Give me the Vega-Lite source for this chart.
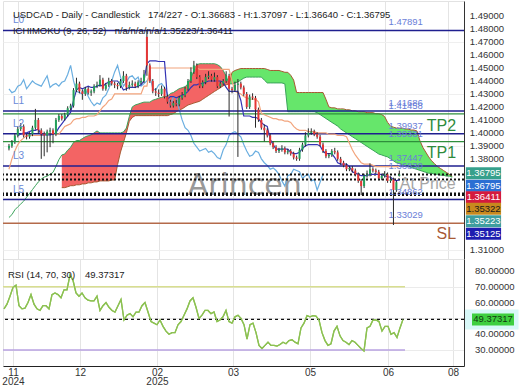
{
"$schema": "https://vega.github.io/schema/vega-lite/v6.json",
"padding": {"left": 0, "top": 0, "right": 0, "bottom": 0},
"bounds": "flush",
"spacing": 0,
"config": {"font": "Liberation Sans", "view": {"stroke": "#e2e2e2"}, "axis": {"title": null}},
"datasets": {
"bars": [
{"i":0,"o":1.388,"h":1.3915,"l":1.3865,"c":1.390,"k":1.372,"ch":1.434,"r":56},
{"i":1,"o":1.390,"h":1.3945,"l":1.3885,"c":1.393,"k":1.380,"ch":1.431,"r":59},
{"i":2,"o":1.393,"h":1.3995,"l":1.3915,"c":1.398,"k":1.386,"ch":1.432,"r":64},
{"i":3,"o":1.398,"h":1.405,"l":1.3965,"c":1.403,"t":1.398,"k":1.391,"ch":1.436,"r":69.6},
{"i":4,"o":1.403,"h":1.4075,"l":1.4015,"c":1.405,"t":1.399,"k":1.394,"ch":1.437,"r":71},
{"i":5,"o":1.405,"h":1.4065,"l":1.3965,"c":1.398,"t":1.400,"k":1.396,"ch":1.441,"r":58},
{"i":6,"o":1.398,"h":1.3995,"l":1.395,"c":1.397,"t":1.400,"k":1.398,"ch":1.434,"r":56},
{"i":7,"o":1.397,"h":1.4005,"l":1.3955,"c":1.399,"t":1.401,"k":1.398,"ch":1.437,"r":56.5},
{"i":8,"o":1.399,"h":1.4055,"l":1.3975,"c":1.404,"t":1.402,"k":1.398,"ch":1.440,"r":60},
{"i":9,"o":1.404,"h":1.4185,"l":1.4025,"c":1.410,"t":1.402,"k":1.398,"ch":1.438,"r":65},
{"i":10,"o":1.410,"h":1.4115,"l":1.3995,"c":1.402,"t":1.403,"k":1.398,"ch":1.437,"r":59},
{"i":11,"o":1.402,"h":1.4035,"l":1.380,"c":1.399,"t":1.3985,"k":1.398,"ch":1.436,"r":56},
{"i":12,"o":1.399,"h":1.401,"l":1.382,"c":1.398,"t":1.3985,"k":1.399,"ch":1.440,"r":55},
{"i":13,"o":1.398,"h":1.4025,"l":1.385,"c":1.401,"t":1.3985,"k":1.399,"ch":1.444,"r":58},
{"i":14,"o":1.401,"h":1.404,"l":1.389,"c":1.402,"t":1.3985,"k":1.399,"ch":1.435,"r":58},
{"i":15,"o":1.402,"h":1.4035,"l":1.392,"c":1.399,"t":1.399,"k":1.399,"ch":1.437,"r":56},
{"i":16,"o":1.399,"h":1.4115,"l":1.3975,"c":1.410,"t":1.400,"k":1.399,"ch":1.438,"r":65},
{"i":17,"o":1.410,"h":1.4145,"l":1.4085,"c":1.413,"t":1.404,"k":1.399,"ch":1.436,"r":66},
{"i":18,"o":1.413,"h":1.4145,"l":1.4095,"c":1.411,"t":1.407,"k":1.402,"ch":1.439,"r":65},
{"i":19,"o":1.411,"h":1.4155,"l":1.4095,"c":1.414,"t":1.410,"k":1.405,"ch":1.440,"r":63},
{"i":20,"o":1.414,"h":1.4205,"l":1.4125,"c":1.419,"t":1.413,"k":1.406,"ch":1.445,"r":68},
{"i":21,"o":1.419,"h":1.4225,"l":1.4175,"c":1.421,"t":1.416,"k":1.407,"ch":1.452,"r":68},
{"i":22,"o":1.421,"h":1.4345,"l":1.4195,"c":1.433,"t":1.425,"k":1.410,"ch":1.440,"r":77.5},
{"i":23,"o":1.433,"h":1.4425,"l":1.4315,"c":1.438,"t":1.433,"k":1.411,"ch":1.432,"r":74},
{"i":24,"o":1.438,"h":1.4395,"l":1.4305,"c":1.432,"t":1.435,"k":1.411,"ch":1.431,"r":66},
{"i":25,"o":1.432,"h":1.4335,"l":1.4255,"c":1.430,"t":1.434,"k":1.412,"ch":1.430,"r":64},
{"i":26,"o":1.430,"h":1.4355,"l":1.4285,"c":1.434,"t":1.435,"k":1.412,"ch":1.434,"r":66},
{"i":27,"o":1.434,"h":1.4355,"l":1.4295,"c":1.431,"t":1.436,"k":1.413,"ch":1.428,"r":63},
{"i":28,"o":1.431,"h":1.4335,"l":1.4285,"c":1.432,"t":1.435,"k":1.413,"ch":1.424,"r":61.5},
{"i":29,"o":1.432,"h":1.4375,"l":1.4305,"c":1.436,"t":1.435,"k":1.413,"ch":1.421,"r":61},
{"i":30,"o":1.436,"h":1.4395,"l":1.4345,"c":1.437,"t":1.436,"k":1.414,"ch":1.423,"r":61},
{"i":31,"o":1.437,"h":1.4445,"l":1.4355,"c":1.441,"t":1.437,"k":1.417,"ch":1.422,"r":64},
{"i":32,"o":1.441,"h":1.4425,"l":1.4325,"c":1.434,"t":1.436,"k":1.420,"ch":1.427,"r":55},
{"i":33,"o":1.434,"h":1.4385,"l":1.4325,"c":1.437,"t":1.438,"k":1.422,"ch":1.429,"r":58},
{"i":34,"o":1.437,"h":1.4425,"l":1.4355,"c":1.440,"t":1.439,"k":1.425,"ch":1.434,"r":60},
{"i":35,"o":1.440,"h":1.4415,"l":1.4365,"c":1.438,"t":1.440,"k":1.426,"ch":1.440,"r":57},
{"i":36,"o":1.438,"h":1.4395,"l":1.4345,"c":1.437,"t":1.440,"k":1.430,"ch":1.447,"r":55},
{"i":37,"o":1.437,"h":1.4385,"l":1.4335,"c":1.436,"t":1.440,"k":1.430,"ch":1.452,"r":54},
{"i":38,"o":1.436,"h":1.4415,"l":1.4345,"c":1.440,"t":1.437,"k":1.430,"ch":1.443,"r":58},
{"i":39,"o":1.440,"h":1.4475,"l":1.4385,"c":1.444,"t":1.433,"k":1.430,"ch":1.436,"r":62},
{"i":40,"o":1.444,"h":1.4455,"l":1.4325,"c":1.435,"t":1.434,"k":1.430,"ch":1.439,"r":49},
{"i":41,"o":1.435,"h":1.4395,"l":1.4335,"c":1.437,"t":1.435,"k":1.430,"ch":1.443,"r":52},
{"i":42,"o":1.437,"h":1.4405,"l":1.4355,"c":1.438,"t":1.435,"k":1.430,"ch":1.444,"r":53},
{"i":43,"o":1.438,"h":1.4395,"l":1.4345,"c":1.436,"t":1.435,"k":1.430,"ch":1.441,"r":51},
{"i":44,"o":1.436,"h":1.4405,"l":1.4345,"c":1.439,"t":1.436,"k":1.430,"ch":1.443,"r":54},
{"i":45,"o":1.439,"h":1.4425,"l":1.4375,"c":1.440,"t":1.437,"k":1.430,"ch":1.436,"r":54},
{"i":46,"o":1.440,"h":1.4485,"l":1.4385,"c":1.445,"t":1.440,"k":1.436,"ch":1.438,"r":58},
{"i":47,"o":1.474,"h":1.4789,"l":1.444,"c":1.452,"t":1.4535,"k":1.436,"ch":1.440,"r":60},
{"i":48,"o":1.452,"h":1.4535,"l":1.4385,"c":1.440,"t":1.4555,"k":1.450,"ch":1.444,"r":54},
{"i":49,"o":1.440,"h":1.4415,"l":1.4305,"c":1.432,"t":1.4555,"k":1.450,"ch":1.434,"r":48},
{"i":50,"o":1.432,"h":1.4345,"l":1.4285,"c":1.431,"t":1.4555,"k":1.450,"ch":1.433,"r":47},
{"i":51,"o":1.431,"h":1.4335,"l":1.4275,"c":1.430,"t":1.455,"k":1.450,"ch":1.437,"r":46},
{"i":52,"o":1.430,"h":1.4365,"l":1.4285,"c":1.434,"t":1.455,"k":1.450,"ch":1.438,"r":49},
{"i":53,"o":1.434,"h":1.4355,"l":1.4265,"c":1.428,"t":1.455,"k":1.450,"ch":1.435,"r":45},
{"i":54,"o":1.428,"h":1.4295,"l":1.4225,"c":1.424,"t":1.426,"k":1.450,"ch":1.430,"r":42},
{"i":55,"o":1.424,"h":1.4255,"l":1.4195,"c":1.421,"t":1.428,"k":1.450,"ch":1.420,"r":40},
{"i":56,"o":1.421,"h":1.4245,"l":1.4195,"c":1.423,"t":1.428,"k":1.450,"ch":1.428,"r":41},
{"i":57,"o":1.423,"h":1.4255,"l":1.4205,"c":1.422,"t":1.427,"k":1.450,"ch":1.427,"r":41},
{"i":58,"o":1.422,"h":1.4285,"l":1.4205,"c":1.427,"t":1.428,"k":1.450,"ch":1.418,"r":46},
{"i":59,"o":1.427,"h":1.4315,"l":1.4255,"c":1.429,"t":1.429,"k":1.450,"ch":1.410,"r":48},
{"i":60,"o":1.429,"h":1.4355,"l":1.4275,"c":1.434,"t":1.430,"k":1.450,"ch":1.404,"r":52},
{"i":61,"o":1.434,"h":1.4415,"l":1.4325,"c":1.440,"t":1.432,"k":1.450,"ch":1.402,"r":56},
{"i":62,"o":1.440,"h":1.4505,"l":1.4385,"c":1.447,"t":1.435,"k":1.450,"ch":1.398,"r":61},
{"i":63,"o":1.447,"h":1.4555,"l":1.4455,"c":1.452,"t":1.437,"k":1.450,"ch":1.392,"r":63},
{"i":64,"o":1.452,"h":1.4535,"l":1.4415,"c":1.443,"t":1.437,"k":1.450,"ch":1.389,"r":57},
{"i":65,"o":1.443,"h":1.4445,"l":1.4345,"c":1.436,"t":1.438,"k":1.449,"ch":1.386,"r":50},
{"i":66,"o":1.436,"h":1.4405,"l":1.4345,"c":1.439,"t":1.438,"k":1.449,"ch":1.387,"r":52},
{"i":67,"o":1.439,"h":1.4455,"l":1.4375,"c":1.443,"t":1.439,"k":1.449,"ch":1.388,"r":55},
{"i":68,"o":1.443,"h":1.4475,"l":1.4415,"c":1.444,"t":1.440,"k":1.449,"ch":1.385,"r":55},
{"i":69,"o":1.444,"h":1.4455,"l":1.4395,"c":1.441,"t":1.440,"k":1.449,"ch":1.386,"r":53},
{"i":70,"o":1.441,"h":1.4465,"l":1.4395,"c":1.443,"t":1.440,"k":1.449,"ch":1.384,"r":54},
{"i":71,"o":1.443,"h":1.4445,"l":1.4345,"c":1.436,"t":1.440,"k":1.449,"ch":1.381,"r":48},
{"i":72,"o":1.436,"h":1.4395,"l":1.4345,"c":1.438,"t":1.440,"k":1.449,"ch":1.380,"r":49},
{"i":73,"o":1.438,"h":1.4415,"l":1.4365,"c":1.440,"t":1.439,"k":1.449,"ch":1.387,"r":51},
{"i":74,"o":1.440,"h":1.4475,"l":1.4385,"c":1.444,"t":1.435,"k":1.449,"ch":1.391,"r":55},
{"i":75,"o":1.444,"h":1.4455,"l":1.4126,"c":1.434,"t":1.432,"k":1.449,"ch":1.398,"r":48},
{"i":76,"o":1.434,"h":1.4355,"l":1.4305,"c":1.433,"t":1.432,"k":1.440,"ch":1.400,"r":47},
{"i":77,"o":1.433,"h":1.4395,"l":1.4315,"c":1.437,"t":1.432,"k":1.432,"ch":1.401,"r":51},
{"i":78,"o":1.437,"h":1.4415,"l":1.3815,"c":1.438,"t":1.432,"k":1.431,"ch":1.399,"r":52},
{"i":79,"o":1.438,"h":1.4395,"l":1.4335,"c":1.435,"t":1.425,"k":1.430,"ch":1.397,"r":50},
{"i":80,"o":1.435,"h":1.4365,"l":1.4285,"c":1.430,"t":1.413,"k":1.428,"ch":1.391,"r":46},
{"i":81,"o":1.430,"h":1.4315,"l":1.4185,"c":1.420,"t":1.413,"k":1.427,"ch":1.386,"r":37},
{"i":82,"o":1.420,"h":1.4295,"l":1.4185,"c":1.428,"t":1.413,"k":1.426,"ch":1.382,"r":46},
{"i":83,"o":1.428,"h":1.4305,"l":1.4255,"c":1.427,"t":1.412,"k":1.426,"ch":1.383,"r":47},
{"i":84,"o":1.427,"h":1.4285,"l":1.404,"c":1.418,"t":1.412,"k":1.426,"ch":1.386,"r":41},
{"i":85,"o":1.418,"h":1.4195,"l":1.4085,"c":1.410,"t":1.411,"k":1.424,"ch":1.385,"r":33},
{"i":86,"o":1.410,"h":1.4115,"l":1.4025,"c":1.404,"t":1.408,"k":1.415,"ch":1.380,"r":31},
{"i":87,"o":1.404,"h":1.4065,"l":1.3935,"c":1.402,"t":1.406,"k":1.414,"ch":1.377,"r":33},
{"i":88,"o":1.402,"h":1.4035,"l":1.3965,"c":1.398,"t":1.405,"k":1.413,"ch":1.375,"r":35},
{"i":89,"o":1.398,"h":1.3995,"l":1.3905,"c":1.392,"t":1.395,"k":1.412,"ch":1.372,"r":33},
{"i":90,"o":1.392,"h":1.3935,"l":1.3875,"c":1.389,"t":1.391,"k":1.411,"ch":1.373,"r":33},
{"i":91,"o":1.389,"h":1.3905,"l":1.3845,"c":1.386,"t":1.3875,"k":1.411,"ch":1.371,"r":32.5},
{"i":92,"o":1.386,"h":1.3885,"l":1.3845,"c":1.387,"t":1.3875,"k":1.410,"ch":1.368,"r":33.5},
{"i":93,"o":1.387,"h":1.3905,"l":1.3855,"c":1.388,"t":1.3875,"k":1.410,"ch":1.363,"r":35},
{"i":94,"o":1.388,"h":1.3895,"l":1.3835,"c":1.385,"t":1.3875,"k":1.409,"ch":1.359,"r":34},
{"i":95,"o":1.385,"h":1.3875,"l":1.3835,"c":1.386,"t":1.3875,"k":1.409,"ch":1.367,"r":36},
{"i":96,"o":1.386,"h":1.3875,"l":1.3825,"c":1.384,"t":1.385,"k":1.408,"ch":1.368,"r":36.5},
{"i":97,"o":1.384,"h":1.3855,"l":1.3795,"c":1.381,"t":1.384,"k":1.405,"ch":1.372,"r":35},
{"i":98,"o":1.381,"h":1.3825,"l":1.3785,"c":1.380,"t":1.384,"k":1.403,"ch":1.371,"r":34},
{"i":99,"o":1.380,"h":1.3885,"l":1.3785,"c":1.387,"t":1.385,"k":1.402,"ch":1.370,"r":44},
{"i":100,"o":1.387,"h":1.3925,"l":1.3855,"c":1.391,"t":1.388,"k":1.402,"ch":1.365,"r":47},
{"i":101,"o":1.391,"h":1.4005,"l":1.3895,"c":1.398,"t":1.390,"k":1.402,"ch":1.367,"r":51.7},
{"i":102,"o":1.398,"h":1.4035,"l":1.3965,"c":1.400,"t":1.391,"k":1.401,"ch":1.368,"r":51},
{"i":103,"o":1.400,"h":1.4035,"l":1.3985,"c":1.401,"t":1.391,"k":1.401,"ch":1.363,"r":51.7},
{"i":104,"o":1.401,"h":1.4025,"l":1.3975,"c":1.399,"t":1.391,"k":1.401,"ch":1.364,"r":51.5},
{"i":105,"o":1.399,"h":1.4005,"l":1.3955,"c":1.397,"t":1.391,"k":1.400,"ch":1.356,"r":49},
{"i":106,"o":1.397,"h":1.3985,"l":1.3895,"c":1.391,"t":1.390,"k":1.400,"ch":1.362,"r":41},
{"i":107,"o":1.391,"h":1.3925,"l":1.3845,"c":1.386,"t":1.386,"k":1.400,"ch":1.368,"r":36},
{"i":108,"o":1.386,"h":1.3875,"l":1.3805,"c":1.382,"t":1.384,"k":1.400,"r":33},
{"i":109,"o":1.382,"h":1.3845,"l":1.3805,"c":1.383,"t":1.384,"k":1.399,"r":34},
{"i":110,"o":1.383,"h":1.3875,"l":1.3815,"c":1.386,"t":1.384,"k":1.399,"r":42},
{"i":111,"o":1.386,"h":1.3885,"l":1.3835,"c":1.385,"t":1.381,"k":1.399,"r":45},
{"i":112,"o":1.385,"h":1.3865,"l":1.3785,"c":1.380,"t":1.377,"k":1.398,"r":39},
{"i":113,"o":1.380,"h":1.3815,"l":1.3755,"c":1.377,"t":1.376,"k":1.398,"r":36},
{"i":114,"o":1.377,"h":1.3785,"l":1.3735,"c":1.375,"t":1.376,"k":1.398,"r":35},
{"i":115,"o":1.375,"h":1.3765,"l":1.3705,"c":1.372,"t":1.376,"k":1.397,"r":33.5},
{"i":116,"o":1.372,"h":1.3745,"l":1.3705,"c":1.373,"t":1.374,"k":1.392,"r":36},
{"i":117,"o":1.373,"h":1.3745,"l":1.3695,"c":1.371,"t":1.370,"k":1.387,"r":35},
{"i":118,"o":1.371,"h":1.3725,"l":1.3665,"c":1.368,"t":1.369,"k":1.383,"r":33},
{"i":119,"o":1.368,"h":1.3695,"l":1.3615,"c":1.363,"t":1.368,"k":1.380,"r":31},
{"i":120,"o":1.363,"h":1.3645,"l":1.352,"c":1.359,"t":1.367,"k":1.377,"r":29.5},
{"i":121,"o":1.359,"h":1.3685,"l":1.3575,"c":1.367,"t":1.367,"k":1.376,"r":44},
{"i":122,"o":1.367,"h":1.371,"l":1.3655,"c":1.368,"t":1.367,"k":1.376,"r":45},
{"i":123,"o":1.368,"h":1.3765,"l":1.3665,"c":1.372,"t":1.368,"k":1.376,"r":49},
{"i":124,"o":1.372,"h":1.3735,"l":1.3695,"c":1.371,"t":1.368,"k":1.375,"r":49},
{"i":125,"o":1.371,"h":1.3725,"l":1.3685,"c":1.370,"t":1.368,"k":1.374,"r":48},
{"i":126,"o":1.370,"h":1.3715,"l":1.3635,"c":1.365,"t":1.368,"k":1.374,"r":42},
{"i":127,"o":1.365,"h":1.3685,"l":1.3635,"c":1.367,"t":1.368,"k":1.374,"r":45},
{"i":128,"o":1.367,"h":1.3705,"l":1.3655,"c":1.368,"t":1.367,"k":1.374,"r":45},
{"i":129,"o":1.368,"h":1.3695,"l":1.3615,"c":1.363,"t":1.366,"k":1.374,"r":40},
{"i":130,"o":1.363,"h":1.3665,"l":1.3615,"c":1.364,"t":1.366,"k":1.374,"r":41},
{"i":131,"o":1.364,"h":1.3655,"l":1.329,"c":1.356,"t":1.364,"k":1.374,"r":38},
{"i":132,"o":1.356,"h":1.3635,"l":1.3545,"c":1.362,"t":1.363,"k":1.374,"r":44},
{"i":133,"o":1.36683,"h":1.37097,"l":1.3664,"c":1.36795,"t":1.364,"k":1.374,"r":49.37317}
],
"cloud": [
{"i":0,"a":1.3348},{"i":1,"a":1.3370},{"i":2,"a":1.3407},{"i":3,"a":1.3430},{"i":4,"a":1.3452},{"i":5,"a":1.3474},{"i":6,"a":1.3504},{"i":7,"a":1.3533},{"i":8,"a":1.3563},{"i":9,"a":1.3593},{"i":10,"a":1.3622},{"i":11,"a":1.3644},{"i":12,"a":1.3659},{"i":13,"a":1.3667},{"i":14,"a":1.3681},{"i":15,"a":1.3696},{"i":16,"a":1.3741},{"i":17,"a":1.3793},
{"i":18,"a":1.3830,"b":1.3578},{"i":19,"a":1.3837,"b":1.3578},{"i":20,"a":1.3867,"b":1.3585},{"i":21,"a":1.3889,"b":1.3593},{"i":22,"a":1.3926,"b":1.3593},{"i":23,"a":1.3941,"b":1.3600},{"i":24,"a":1.3941,"b":1.3600},{"i":25,"a":1.3956,"b":1.3607},{"i":26,"a":1.3970,"b":1.3607},{"i":27,"a":1.3978,"b":1.3615},{"i":28,"a":1.3985,"b":1.3615},{"i":29,"a":1.4000,"b":1.3622},{"i":30,"a":1.4015,"b":1.3622},{"i":31,"a":1.4000,"b":1.3630},{"i":32,"a":1.4000,"b":1.3630},{"i":33,"a":1.4000,"b":1.3630},{"i":34,"a":1.4000,"b":1.3630},{"i":35,"a":1.4000,"b":1.3637},{"i":36,"a":1.4000,"b":1.3637},{"i":37,"a":1.4000,"b":1.3756},{"i":38,"a":1.4000,"b":1.3852},{"i":39,"a":1.4007,"b":1.3926},{"i":40,"a":1.4037,"b":1.4000},{"i":41,"a":1.4126,"b":1.4089},{"i":42,"a":1.4200,"b":1.4119},{"i":43,"a":1.4215,"b":1.4133},{"i":44,"a":1.4222,"b":1.4133},{"i":45,"a":1.4230,"b":1.4133},{"i":46,"a":1.4237,"b":1.4133},{"i":47,"a":1.4237,"b":1.4133},{"i":48,"a":1.4237,"b":1.4133},{"i":49,"a":1.4252,"b":1.4133},{"i":50,"a":1.4259,"b":1.4133},{"i":51,"a":1.4267,"b":1.4133},{"i":52,"a":1.4274,"b":1.4133},{"i":53,"a":1.4281,"b":1.4133},{"i":54,"a":1.4281,"b":1.4133},{"i":55,"a":1.4304,"b":1.4141},{"i":56,"a":1.4311,"b":1.4148},{"i":57,"a":1.4326,"b":1.4163},{"i":58,"a":1.4341,"b":1.4178},{"i":59,"a":1.4348,"b":1.4185},{"i":60,"a":1.4356,"b":1.4200},{"i":61,"a":1.4378,"b":1.4215},{"i":62,"a":1.4422,"b":1.4222},{"i":63,"a":1.4481,"b":1.4230},{"i":64,"a":1.4526,"b":1.4237},{"i":65,"a":1.4533,"b":1.4244},{"i":66,"a":1.4533,"b":1.4259},{"i":67,"a":1.4533,"b":1.4274},{"i":68,"a":1.4533,"b":1.4289},{"i":69,"a":1.4533,"b":1.4304},{"i":70,"a":1.4533,"b":1.4319},{"i":71,"a":1.4526,"b":1.4333},{"i":72,"a":1.4511,"b":1.4348},{"i":73,"a":1.4481,"b":1.4363},{"i":74,"a":1.4437,"b":1.4370},{"i":75,"a":1.4378,"b":1.4378},
{"i":76,"a":1.4378,"b":1.4467},{"i":77,"a":1.4385,"b":1.4481},{"i":78,"a":1.4393,"b":1.4489},{"i":79,"a":1.4407,"b":1.4496},{"i":80,"a":1.4422,"b":1.4496},{"i":81,"a":1.4430,"b":1.4496},{"i":82,"a":1.4430,"b":1.4496},{"i":83,"a":1.4430,"b":1.4496},{"i":84,"a":1.4430,"b":1.4496},{"i":85,"a":1.4430,"b":1.4496},{"i":86,"a":1.4430,"b":1.4496},{"i":87,"a":1.4407,"b":1.4496},{"i":88,"a":1.4385,"b":1.4489},{"i":89,"a":1.4385,"b":1.4481},{"i":90,"a":1.4385,"b":1.4481},{"i":91,"a":1.4385,"b":1.4481},{"i":92,"a":1.4385,"b":1.4481},{"i":93,"a":1.4385,"b":1.4474},{"i":94,"a":1.4378,"b":1.4467},{"i":95,"a":1.4163,"b":1.4467},{"i":96,"a":1.4163,"b":1.4444},{"i":97,"a":1.4163,"b":1.4407},{"i":98,"a":1.4163,"b":1.4311},{"i":99,"a":1.4163,"b":1.4311},{"i":100,"a":1.4163,"b":1.4311},{"i":101,"a":1.4163,"b":1.4311},{"i":102,"a":1.4163,"b":1.4311},{"i":103,"a":1.4163,"b":1.4311},{"i":104,"a":1.4163,"b":1.4311},{"i":105,"a":1.4156,"b":1.4311},{"i":106,"a":1.4141,"b":1.4311},{"i":107,"a":1.4126,"b":1.4311},{"i":108,"a":1.4111,"b":1.4259},{"i":109,"a":1.4096,"b":1.4200},{"i":110,"a":1.4081,"b":1.4193},{"i":111,"a":1.4067,"b":1.4193},{"i":112,"a":1.4052,"b":1.4185},{"i":113,"a":1.4030,"b":1.4185},{"i":114,"a":1.4015,"b":1.4185},{"i":115,"a":1.4000,"b":1.4178},{"i":116,"a":1.3985,"b":1.4178},{"i":117,"a":1.3970,"b":1.4170},{"i":118,"a":1.3956,"b":1.4170},{"i":119,"a":1.3941,"b":1.4163},{"i":120,"a":1.3926,"b":1.4163},{"i":121,"a":1.3911,"b":1.4163},{"i":122,"a":1.3896,"b":1.4156},{"i":123,"a":1.3881,"b":1.4156},{"i":124,"a":1.3867,"b":1.4156},{"i":125,"a":1.3852,"b":1.4148},{"i":126,"a":1.3837,"b":1.4148},{"i":127,"a":1.3830,"b":1.4141},{"i":128,"a":1.3822,"b":1.4126},{"i":129,"a":1.3815,"b":1.4081},{"i":130,"a":1.3800,"b":1.4052},{"i":131,"a":1.3785,"b":1.4044},{"i":132,"a":1.3770,"b":1.4037},{"i":133,"a":1.3763,"b":1.4037},{"i":134,"a":1.3756,"b":1.4037},{"i":135,"a":1.3748,"b":1.4030},{"i":136,"a":1.3741,"b":1.4030},{"i":137,"a":1.3733,"b":1.4022},{"i":138,"a":1.3726,"b":1.4022},{"i":139,"a":1.3719,"b":1.4015},{"i":140,"a":1.3711,"b":1.3941},{"i":141,"a":1.3704,"b":1.3889},{"i":142,"a":1.3696,"b":1.3852},{"i":143,"a":1.3689,"b":1.3815},{"i":144,"a":1.3689,"b":1.3785},{"i":145,"a":1.3681,"b":1.3763},{"i":146,"a":1.3681,"b":1.3741},{"i":147,"a":1.3674,"b":1.3726},{"i":148,"a":1.3674,"b":1.3711},{"i":149,"a":1.3667,"b":1.3696},{"i":150,"a":1.3667,"b":1.3681},{"i":151,"a":1.3659,"b":1.3667}
],
"levels": [
{"v":1.47891,"g":"n"},{"v":1.41686,"g":"n"},{"v":1.39937,"g":"n"},{"v":1.37447,"g":"n"},{"v":1.34862,"g":"n"},
{"v":1.41458,"g":"g"},{"v":1.39331,"g":"g"},
{"v":1.33029,"g":"b"},
{"v":1.36795,"g":"d"},{"v":1.36411,"g":"d"},{"v":1.35322,"g":"d"},{"v":1.35223,"g":"d"}
],
"vlabels": [{"v":1.47891},{"v":1.41686},{"v":1.41458},{"v":1.39937},{"v":1.39331},{"v":1.37447},{"v":1.36830},{"v":1.34862},{"v":1.33029}],
"llabels": [{"v":1.47891,"s":"L0"},{"v":1.41686,"s":"L1"},{"v":1.39937,"s":"L2"},{"v":1.37447,"s":"L3"},{"v":1.34862,"s":"L5"}],
"pticks": [{"v":1.31},{"v":1.38},{"v":1.39},{"v":1.40},{"v":1.41},{"v":1.42},{"v":1.43},{"v":1.44},{"v":1.45},{"v":1.46},{"v":1.47},{"v":1.48},{"v":1.49}],
"rticks": [{"v":30},{"v":40},{"v":60},{"v":70},{"v":80}],
"badges": [
{"ly":1.36889,"s":"1.36795","bg":"#36a08c","fg":"#ffffff"},
{"ly":1.35926,"s":"1.36795","bg":"#2b6fd3","fg":"#ffffff"},
{"ly":1.35037,"s":"1.36411","bg":"#d41a3e","fg":"#ffffff"},
{"ly":1.34148,"s":"1.35322","bg":"#c8891e","fg":"#1a1a1a"},
{"ly":1.33185,"s":"1.35223","bg":"#3f9e9e","fg":"#ffffff"},
{"ly":1.32222,"s":"1.35125","bg":"#1d1db0","fg":"#ffffff"}
]
},
"vconcat": [
{
"width": 461, "height": 258,
"layer": [
{"data": {"name": "cloud"}, "transform": [{"filter": "datum.i >= 18 && datum.i <= 75"}], "mark": {"type": "area", "color": "#f36464"},
 "encoding": {"x": {"field": "i", "type": "quantitative", "scale": {"domain": [-0.333, 153.333], "nice": false, "zero": false},
   "axis": {"values": [3, 25.33, 51, 76.33, 102, 128, 149.67], "labels": false, "ticks": false, "domain": true, "domainColor": "#333", "grid": true, "gridColor": "#e4e4e4", "title": null}},
  "y": {"field": "a", "type": "quantitative", "scale": {"domain": [1.30667, 1.49778], "nice": false, "zero": false},
   "axis": {"orient": "right", "values": [1.31, 1.32, 1.33, 1.34, 1.35, 1.36, 1.37, 1.38, 1.39, 1.40, 1.41, 1.42, 1.43, 1.44, 1.45, 1.46, 1.47, 1.48, 1.49],
    "labels": false, "ticks": false, "domainColor": "#333", "grid": true, "gridColor": "#efefef", "title": null}},
  "y2": {"field": "b"}}},
{"data": {"values": [{}]}, "mark": {"type": "text", "font": "DejaVu Sans", "fontSize": 30, "color": "#8e8e8e", "opacity": 0.9, "align": "center", "baseline": "alphabetic"},
 "encoding": {"x": {"datum": 80.33, "type": "quantitative"},
  "y": {"datum": 1.35185, "type": "quantitative"},
  "text": {"value": "Arincen"}}},
{"data": {"name": "cloud"}, "transform": [{"filter": "datum.i >= 75"}], "mark": {"type": "area", "color": "#66e66b"},
 "encoding": {"x": {"field": "i", "type": "quantitative"},
  "y": {"field": "a", "type": "quantitative"},
  "y2": {"field": "b"}}},
{"data": {"name": "cloud"}, "mark": {"type": "line", "color": "#3aa35a", "strokeWidth": 1},
 "encoding": {"x": {"field": "i", "type": "quantitative"},
  "y": {"field": "a", "type": "quantitative"}}},
{"data": {"name": "cloud"}, "transform": [{"filter": "isValid(datum.b)"}], "mark": {"type": "line", "color": "#a65a32", "strokeWidth": 1},
 "encoding": {"x": {"field": "i", "type": "quantitative"},
  "y": {"field": "b", "type": "quantitative"}}},
{"data": {"name": "bars"}, "transform": [{"filter": "isValid(datum.ch)"}], "mark": {"type": "line", "color": "#6aaee0", "strokeWidth": 1.2},
 "encoding": {"x": {"field": "i", "type": "quantitative"},
  "y": {"field": "ch", "type": "quantitative"}}},
{"data": {"name": "levels"}, "transform": [{"filter": "datum.g == 'n'"}], "mark": {"type": "rule", "color": "#1f1f8f", "strokeWidth": 1.5},
 "encoding": {"y": {"field": "v", "type": "quantitative"}}},
{"data": {"name": "levels"}, "transform": [{"filter": "datum.g == 'g'"}], "mark": {"type": "rule", "color": "#2f8f3c", "strokeWidth": 1.3},
 "encoding": {"y": {"field": "v", "type": "quantitative"}}},
{"data": {"name": "levels"}, "transform": [{"filter": "datum.g == 'b'"}], "mark": {"type": "rule", "color": "#b46a4a", "strokeWidth": 1.5},
 "encoding": {"y": {"field": "v", "type": "quantitative"}}},
{"data": {"name": "levels"}, "transform": [{"filter": "datum.g == 'd'"}], "mark": {"type": "rule", "color": "#111111", "strokeWidth": 2, "strokeDash": [2, 2]},
 "encoding": {"y": {"field": "v", "type": "quantitative"}}},
{"data": {"name": "bars"}, "mark": {"type": "line", "color": "#f2a47c", "strokeWidth": 1.2},
 "encoding": {"x": {"field": "i", "type": "quantitative"},
  "y": {"field": "k", "type": "quantitative"}}},
{"data": {"name": "bars"}, "transform": [{"filter": "isValid(datum.t)"}], "mark": {"type": "line", "color": "#3434b4", "strokeWidth": 1.2},
 "encoding": {"x": {"field": "i", "type": "quantitative"},
  "y": {"field": "t", "type": "quantitative"}}},
{"data": {"name": "bars"}, "mark": {"type": "rule", "color": "#2a2a2a", "strokeWidth": 1},
 "encoding": {"x": {"field": "i", "type": "quantitative"},
  "y": {"field": "l", "type": "quantitative"},
  "y2": {"field": "h"}}},
{"data": {"name": "bars"}, "mark": {"type": "bar", "size": 2},
 "encoding": {"x": {"field": "i", "type": "quantitative"},
  "y": {"field": "o", "type": "quantitative"},
  "y2": {"field": "c"},
  "color": {"condition": {"test": "datum.c >= datum.o", "value": "#23a05a"}, "value": "#e53535"}}},
{"data": {"name": "vlabels"}, "mark": {"type": "text", "align": "left", "baseline": "middle", "dy": -8, "fontSize": 9.5, "color": "#6a7ed8"},
 "encoding": {"x": {"datum": 129.33, "type": "quantitative"},
  "y": {"field": "v", "type": "quantitative"},
  "text": {"field": "v", "type": "quantitative", "format": ".5f"}}},
{"data": {"name": "llabels"}, "mark": {"type": "text", "align": "left", "baseline": "middle", "dy": -10, "fontSize": 10, "color": "#6a8ad8"},
 "encoding": {"x": {"datum": 1.33, "type": "quantitative"},
  "y": {"field": "v", "type": "quantitative"},
  "text": {"field": "s"}}},
{"data": {"values": [{}]}, "mark": {"type": "text", "align": "center", "baseline": "middle", "fontSize": 16, "color": "#2e8b3c"},
 "encoding": {"x": {"datum": 147.33, "type": "quantitative"}, "y": {"datum": 1.40556, "type": "quantitative"}, "text": {"value": "TP2"}}},
{"data": {"values": [{}]}, "mark": {"type": "text", "align": "center", "baseline": "middle", "fontSize": 16, "color": "#2e8b3c"},
 "encoding": {"x": {"datum": 147.33, "type": "quantitative"}, "y": {"datum": 1.38481, "type": "quantitative"}, "text": {"value": "TP1"}}},
{"data": {"values": [{}]}, "mark": {"type": "text", "align": "center", "baseline": "middle", "fontSize": 16, "color": "#a95a35"},
 "encoding": {"x": {"datum": 149, "type": "quantitative"}, "y": {"datum": 1.32222, "type": "quantitative"}, "text": {"value": "SL"}}},
{"data": {"values": [{}]}, "mark": {"type": "text", "align": "center", "baseline": "middle", "fontSize": 16, "color": "#a6a6a6"},
 "encoding": {"x": {"datum": 142.67, "type": "quantitative"}, "y": {"datum": 1.36074, "type": "quantitative"}, "text": {"value": "At Price"}}},
{"data": {"values": [{}]}, "mark": {"type": "text", "align": "left", "baseline": "middle", "fontSize": 9.5, "color": "#222222"},
 "encoding": {"x": {"datum": 1.33, "type": "quantitative"}, "y": {"datum": 1.49074, "type": "quantitative"}, "text": {"value": "USDCAD - Daily - Candlestick"}}},
{"data": {"values": [{}]}, "mark": {"type": "text", "align": "left", "baseline": "middle", "fontSize": 9.5, "color": "#222222"},
 "encoding": {"x": {"datum": 47.33, "type": "quantitative"}, "y": {"datum": 1.49074, "type": "quantitative"}, "text": {"value": "174/227 - O:1.36683 - H:1.37097 - L:1.36640 - C:1.36795"}}},
{"data": {"values": [{}]}, "mark": {"type": "text", "align": "left", "baseline": "middle", "fontSize": 9.5, "color": "#222222"},
 "encoding": {"x": {"datum": 1.33, "type": "quantitative"}, "y": {"datum": 1.47815, "type": "quantitative"}, "text": {"value": "ICHIMOKU (9, 26, 52)"}}},
{"data": {"values": [{}]}, "mark": {"type": "text", "align": "left", "baseline": "middle", "fontSize": 9.5, "color": "#222222"},
 "encoding": {"x": {"datum": 36, "type": "quantitative"}, "y": {"datum": 1.47815, "type": "quantitative"}, "text": {"value": "n/a/n/a/n/a/1.35223/1.36411"}}},
{"data": {"name": "pticks"}, "mark": {"type": "text", "align": "left", "baseline": "middle", "fontSize": 9.5, "color": "#333333"},
 "encoding": {"x": {"datum": 157, "type": "quantitative"},
  "y": {"field": "v", "type": "quantitative"},
  "text": {"field": "v", "type": "quantitative", "format": ".5f"}}},
{"data": {"name": "badges"}, "mark": {"type": "bar", "orient": "horizontal", "size": 12},
 "encoding": {"x": {"datum": 155.67, "type": "quantitative"},
  "x2": {"datum": 167.67},
  "y": {"field": "ly", "type": "quantitative"},
  "color": {"field": "bg", "type": "nominal", "scale": null}}},
{"data": {"name": "badges"}, "mark": {"type": "text", "align": "center", "baseline": "middle", "fontSize": 9.5},
 "encoding": {"x": {"datum": 161.67, "type": "quantitative"},
  "y": {"field": "ly", "type": "quantitative"},
  "text": {"field": "s"},
  "color": {"field": "fg", "type": "nominal", "scale": null}}}
]
},
{
"width": 461, "height": 107,
"layer": [
{"data": {"name": "bars"}, "mark": {"type": "line", "color": "#8cc152", "strokeWidth": 1.3},
 "encoding": {"x": {"field": "i", "type": "quantitative", "scale": {"domain": [-0.333, 153.333], "nice": false, "zero": false},
   "axis": {"values": [3, 25.33, 51, 76.33, 102, 128, 149.67],
    "labelExpr": "datum.value < 10 ? ['11', '2024'] : datum.value < 30 ? '12' : datum.value < 60 ? ['02', '2025'] : datum.value < 90 ? '03' : datum.value < 110 ? '05' : datum.value < 140 ? '06' : '08'",
    "ticks": false, "domainColor": "#222", "grid": true, "gridColor": "#e4e4e4", "labelFontSize": 10, "labelColor": "#333", "labelPadding": 1, "labelLineHeight": 9, "labelFlush": false, "labelOverlap": false, "labelBound": false, "title": null}},
  "y": {"field": "r", "type": "quantitative", "scale": {"domain": [23.14, 84.29], "nice": false, "zero": false},
   "axis": {"orient": "right", "values": [30, 40, 50, 60, 70, 80], "labels": false, "ticks": false, "domainColor": "#333", "grid": true, "gridColor": "#ebebeb", "title": null}}}},
{"data": {"values": [{"v": 70, "col": "#d8de90"}, {"v": 30, "col": "#b9a2e2"}]}, "mark": {"type": "rule", "strokeWidth": 1.5},
 "encoding": {"x": {"datum": -0.333, "type": "quantitative"},
  "x2": {"datum": 133.67},
  "y": {"field": "v", "type": "quantitative"},
  "color": {"field": "col", "type": "nominal", "scale": null}}},
{"data": {"values": [{"v": 49.37317}]}, "mark": {"type": "rule", "color": "#111111", "strokeWidth": 1.2, "strokeDash": [3, 3]},
 "encoding": {"y": {"field": "v", "type": "quantitative"}}},
{"data": {"name": "bars"}, "mark": {"type": "line", "color": "#8cc152", "strokeWidth": 1.3},
 "encoding": {"x": {"field": "i", "type": "quantitative"}, "y": {"field": "r", "type": "quantitative"}}},
{"data": {"values": [{}]}, "mark": {"type": "text", "align": "left", "baseline": "middle", "fontSize": 9.5, "color": "#222222"},
 "encoding": {"x": {"datum": 1.33, "type": "quantitative"}, "y": {"datum": 77.14, "type": "quantitative"}, "text": {"value": "RSI (14, 70, 30)"}}},
{"data": {"values": [{}]}, "mark": {"type": "text", "align": "left", "baseline": "middle", "fontSize": 9.5, "color": "#222222"},
 "encoding": {"x": {"datum": 27, "type": "quantitative"}, "y": {"datum": 77.14, "type": "quantitative"}, "text": {"value": "49.37317"}}},
{"data": {"name": "rticks"}, "mark": {"type": "text", "align": "left", "baseline": "middle", "fontSize": 9.5, "color": "#333333"},
 "encoding": {"x": {"datum": 157, "type": "quantitative"},
  "y": {"field": "v", "type": "quantitative"},
  "text": {"field": "v", "type": "quantitative", "format": ".5f"}}},
{"data": {"values": [{"v": 49.37317}]}, "mark": {"type": "bar", "orient": "horizontal", "size": 20, "color": "#d8f8f8"},
 "encoding": {"x": {"datum": 153.67, "type": "quantitative"}, "x2": {"datum": 171.5}, "y": {"field": "v", "type": "quantitative"}}},
{"data": {"values": [{"v": 49.37317}]}, "mark": {"type": "bar", "orient": "horizontal", "size": 12, "color": "#3fcf3f"},
 "encoding": {"x": {"datum": 156, "type": "quantitative"}, "x2": {"datum": 170}, "y": {"field": "v", "type": "quantitative"}}},
{"data": {"values": [{"v": 49.37317}]}, "mark": {"type": "text", "align": "center", "baseline": "middle", "fontSize": 9.5, "color": "#0f3a0f"},
 "encoding": {"x": {"datum": 163, "type": "quantitative"}, "y": {"field": "v", "type": "quantitative"}, "text": {"field": "v", "type": "quantitative", "format": ".5f"}}}
]
}
]
}
